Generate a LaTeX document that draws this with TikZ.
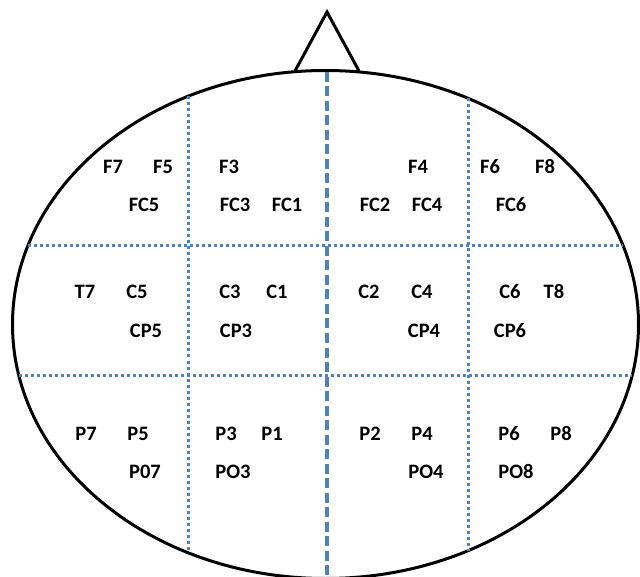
\documentclass[tikz,border=0pt]{standalone}
\usepackage{fontspec}
\setmainfont{Carlito}
\definecolor{gridblue}{RGB}{79,129,189}
\begin{document}
\begin{tikzpicture}[x=1pt,y=-1pt,
  outline/.style={line width=3pt,black},
  gridline/.style={line width=3pt,gridblue,dash pattern=on 3pt off 3pt},
  midline/.style={line width=3.3pt,gridblue,dash pattern=on 10pt off 4.5pt},
  lbl/.style={font=\fontsize{20.5}{24}\selectfont\bfseries,inner sep=0pt,
    text height=13.2pt,text depth=0pt,anchor=center}]
\useasboundingbox (0,0) rectangle (640,577);
% head
\draw[outline,line join=miter] (295,71) -- (327,12) -- (359,71);
\draw[outline] (325.5,324.5) ellipse [x radius=313, y radius=254];
% grid
\coordinate (hl1) at (27.8,246); \coordinate (hr1) at (623.2,246);
\coordinate (hl2) at (18.7,375); \coordinate (hr2) at (632.3,375);
\coordinate (vt1) at (188,96.5); \coordinate (vb1) at (188,552.5);
\coordinate (vt3) at (468,98.5); \coordinate (vb3) at (468,550.5);
\coordinate (vt2) at (327,72); \coordinate (vb2) at (327,580);
\draw[gridline] (hl1) -- (hr1);
\draw[gridline] (hl2) -- (hr2);
\draw[gridline] (vt1) -- (vb1);
\draw[gridline] (vt3) -- (vb3);
\draw[midline] (vt2) -- (vb2);
% labels
\node[lbl] (F7) at (113,167) {F7};
\node[lbl] (F5) at (163,167) {F5};
\node[lbl] (F3) at (229,167) {F3};
\node[lbl] (F4) at (418,167) {F4};
\node[lbl] (F6) at (490,167) {F6};
\node[lbl] (F8) at (545,167) {F8};
\node[lbl] (FC5) at (144,205) {FC5};
\node[lbl] (FC3) at (235,205) {FC3};
\node[lbl] (FC1) at (287,205) {FC1};
\node[lbl] (FC2) at (375,205) {FC2};
\node[lbl] (FC4) at (427,205) {FC4};
\node[lbl] (FC6) at (511,205) {FC6};
\node[lbl] (T7) at (85,292) {T7};
\node[lbl] (C5) at (137,292) {C5};
\node[lbl] (C3) at (230,292) {C3};
\node[lbl] (C1) at (277,292) {C1};
\node[lbl] (C2) at (369,292) {C2};
\node[lbl] (C4) at (422,292) {C4};
\node[lbl] (C6) at (510,292) {C6};
\node[lbl] (T8) at (554,292) {T8};
\node[lbl] (CP5) at (146,331) {CP5};
\node[lbl] (CP3) at (236,331) {CP3};
\node[lbl] (CP4) at (424,331) {CP4};
\node[lbl] (CP6) at (510,331) {CP6};
\node[lbl] (P7) at (86,434) {P7};
\node[lbl] (P5) at (138,434) {P5};
\node[lbl] (P3) at (226,434) {P3};
\node[lbl] (P1) at (272,434) {P1};
\node[lbl] (P2) at (370,434) {P2};
\node[lbl] (P4) at (422,434) {P4};
\node[lbl] (P6) at (509,434) {P6};
\node[lbl] (P8) at (561,434) {P8};
\node[lbl] (P07) at (145,472) {P07};
\node[lbl] (PO3) at (233,472) {PO3};
\node[lbl] (PO4) at (426,472) {PO4};
\node[lbl] (PO8) at (516,472) {PO8};
\end{tikzpicture}
\end{document}
